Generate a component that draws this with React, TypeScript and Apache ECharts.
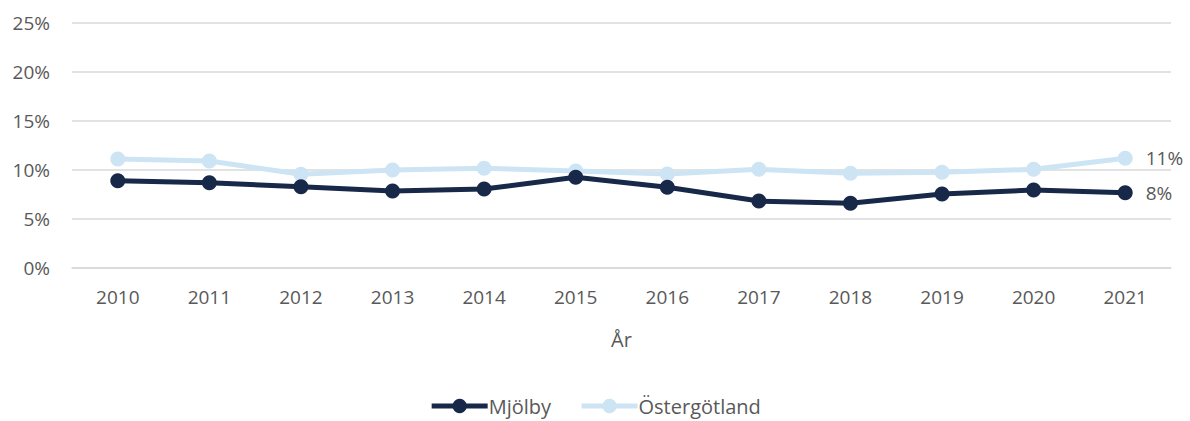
import React, { useEffect, useRef } from "react";
import * as echarts from "echarts";

const years = ["2010", "2011", "2012", "2013", "2014", "2015", "2016", "2017", "2018", "2019", "2020", "2021"];
const mjolby = [8.88, 8.67, 8.27, 7.83, 8.03, 9.22, 8.2, 6.8, 6.57, 7.52, 7.93, 7.65];
const ostergotland = [11.09, 10.89, 9.53, 9.97, 10.14, 9.87, 9.56, 10.04, 9.63, 9.73, 10.04, 11.16];

const FONT = "'Open Sans', 'Noto Sans', sans-serif";
const TXT = "#595959";

export default function App() {
  const ref = useRef<HTMLDivElement>(null);
  useEffect(() => {
    document.body.style.margin = "0";
    if (!ref.current) return;
    const chart = echarts.init(ref.current, undefined, { renderer: "svg" });
    const endLabel = (n: number) => ({
      show: true,
      position: "right" as const,
      distance: 13,
      color: TXT,
      fontSize: 19,
      fontFamily: FONT,
      formatter: (p: any) => (p.dataIndex === n - 1 ? Math.round(p.value) + "%" : ""),
    });
    chart.setOption({
      animation: false,
      textStyle: { fontFamily: FONT },
      grid: { left: 72, right: 19, top: 22.7, bottom: 153.3, containLabel: false },
      xAxis: {
        type: "category",
        data: years,
        name: "År",
        nameLocation: "middle",
        nameGap: 62,
        nameTextStyle: { color: TXT, fontSize: 20, fontFamily: FONT },
        axisLine: { show: true, lineStyle: { color: "#d9d9d9", width: 1.5 } },
        axisTick: { show: false },
        axisLabel: { color: TXT, fontSize: 19, margin: 20, fontFamily: FONT },
      },
      yAxis: {
        type: "value",
        min: 0,
        max: 25,
        interval: 5,
        axisLine: { show: false },
        axisTick: { show: false },
        splitLine: { lineStyle: { color: "#d9d9d9", width: 1.5 } },
        axisLabel: { color: TXT, fontSize: 19, margin: 22, fontFamily: FONT, formatter: "{value}%" },
      },
      legend: {
        top: 396,
        left: "center",
        itemWidth: 56,
        itemHeight: 18,
        itemGap: 28,
        padding: 0,
        lineStyle: { width: 5 },
        textStyle: { color: TXT, fontSize: 20, fontFamily: FONT, padding: [0, 0, 0, -4] },
        data: ["Mjölby", "Östergötland"],
      },
      series: [
        {
          name: "Östergötland",
          type: "line",
          data: ostergotland,
          symbol: "circle",
          symbolSize: 15,
          lineStyle: { color: "#cde4f4", width: 5 },
          itemStyle: { color: "#cde4f4" },
          label: endLabel(ostergotland.length),
        },
        {
          name: "Mjölby",
          type: "line",
          data: mjolby,
          symbol: "circle",
          symbolSize: 15,
          lineStyle: { color: "#182848", width: 5 },
          itemStyle: { color: "#182848" },
          label: endLabel(mjolby.length),
        },
      ],
    });
    return () => chart.dispose();
  }, []);
  return <div ref={ref} style={{ width: 1190, height: 421 }} />;
}
